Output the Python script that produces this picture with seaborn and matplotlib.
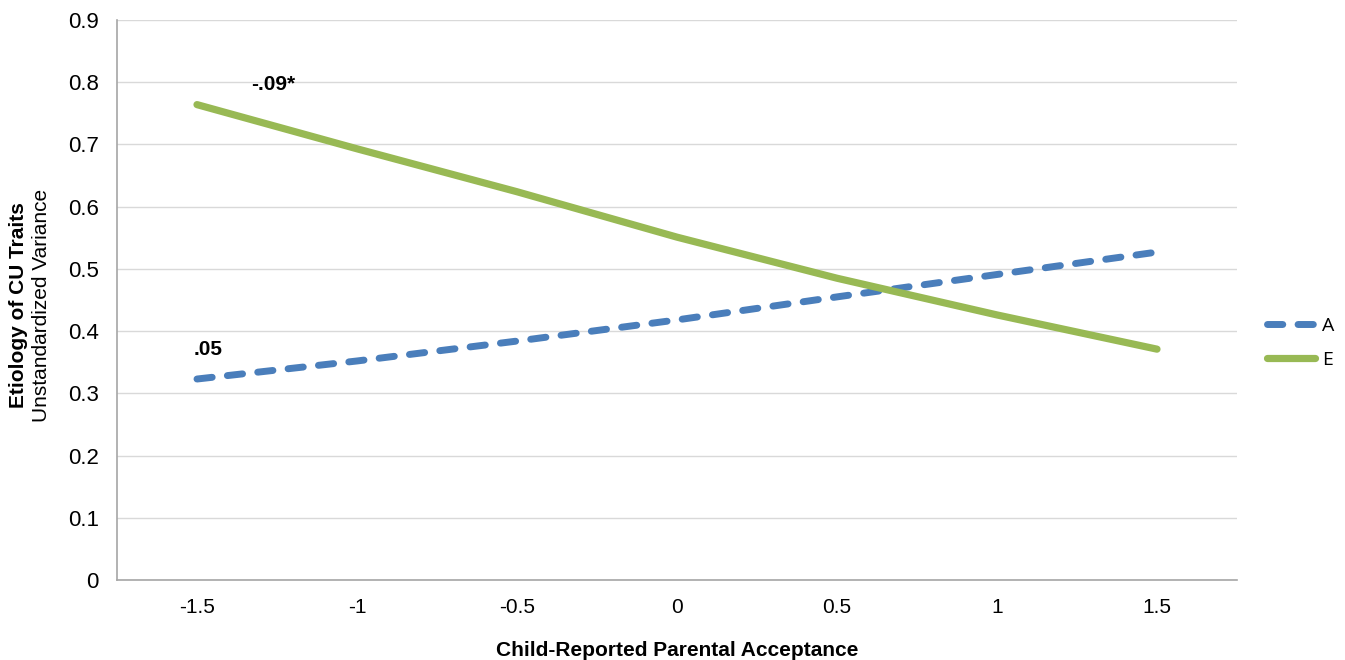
import matplotlib
matplotlib.use("Agg")
import matplotlib.pyplot as plt
import seaborn as sns
import pandas as pd
from matplotlib.lines import Line2D

x_vals = [-1.5, -1.0, -0.5, 0.0, 0.5, 1.0, 1.5]
a_vals = [0.323, 0.352, 0.384, 0.418, 0.455, 0.491, 0.527]
e_vals = [0.764, 0.693, 0.624, 0.551, 0.485, 0.426, 0.371]
series_names = ["A", "E"]
x_ticklabels = ["-1.5", "-1", "-0.5", "0", "0.5", "1", "1.5"]
y_ticks = [0, 0.1, 0.2, 0.3, 0.4, 0.5, 0.6, 0.7, 0.8, 0.9]
ann_text = ["-.09*", ".05"]

sns.set_theme(style="white")
plt.rcParams['font.family'] = ['Liberation Sans', 'DejaVu Sans']
plt.rcParams['text.color'] = 'black'
plt.rcParams['xtick.color'] = 'black'
plt.rcParams['ytick.color'] = 'black'
plt.rcParams['axes.labelcolor'] = 'black'

df = pd.DataFrame({
    "x": x_vals * 2,
    "y": a_vals + e_vals,
    "series": ["A"] * len(x_vals) + ["E"] * len(x_vals),
})

colors = {"A": "#4a7ebb", "E": "#98b954"}
narrow = ['Liberation Sans Narrow', 'Liberation Sans']

fig = plt.figure(figsize=(13.45, 6.6), dpi=100)
ax = fig.add_axes([117/1345, 80/660, 1120/1345, 560/660])

sns.lineplot(data=df, x="x", y="y", hue="series", palette=colors,
             ax=ax, legend=False, linewidth=5)
lines = ax.get_lines()
for ln in lines:
    ln.set_dash_capstyle("round")
    ln.set_solid_capstyle("round")
lines[0].set_dashes([2.2, 2.2])
lines[0].set_linewidth(5)
lines[1].set_linewidth(5.2)

ax.set_xlim(-1.75, 1.75)
ax.set_ylim(0, 0.9)
ax.set_xticks(x_vals)
ax.set_xticklabels(x_ticklabels, fontsize=15, family=narrow)
ax.set_yticks(y_ticks)
ax.set_yticklabels([f"{v:g}" for v in y_ticks], fontsize=16)
ax.tick_params(axis='x', length=0, pad=13)
ax.tick_params(axis='y', length=0, pad=13)
ax.grid(axis='y', color='#d9d9d9', linewidth=1)
ax.grid(axis='x', visible=False)
for s in ["top", "right"]:
    ax.spines[s].set_visible(False)
for s in ["left", "bottom"]:
    ax.spines[s].set_color('#a6a6a6')
    ax.spines[s].set_linewidth(1.2)

ax.set_xlabel("Child-Reported Parental Acceptance", fontsize=15, fontweight='bold',
              family=narrow, labelpad=17)
ax.set_ylabel("")
fig.text(19/1345, 1 - 305/660, "Etiology of CU Traits", rotation=90, fontsize=15,
         fontweight='bold', va='center', ha='center')
fig.text(42/1345, 1 - 305/660, "Unstandardized Variance", rotation=90, fontsize=15,
         va='center', ha='center')

ax.annotate(ann_text[0], xy=(x_vals[0], e_vals[0]), xytext=(54, 20),
            textcoords='offset pixels', fontsize=15, fontweight='bold',
            ha='left', va='center')
ax.annotate(ann_text[1], xy=(x_vals[0], a_vals[0]), xytext=(-3, 30),
            textcoords='offset pixels', fontsize=15, fontweight='bold',
            ha='left', va='center')

handles = [Line2D([0], [0], color=colors["A"], lw=5, dashes=[2.2, 2.2],
                  dash_capstyle='round'),
           Line2D([0], [0], color=colors["E"], lw=5.2, solid_capstyle='round')]
fig.legend(handles, series_names, loc='center left',
           bbox_to_anchor=(1249/1345, 1 - 343/660), frameon=False,
           handlelength=2.5, handletextpad=0.35, labelspacing=0.85,
           prop={'family': ['Open Sans', 'DejaVu Sans'], 'size': 14})

fig.savefig("out.png", dpi=100)
